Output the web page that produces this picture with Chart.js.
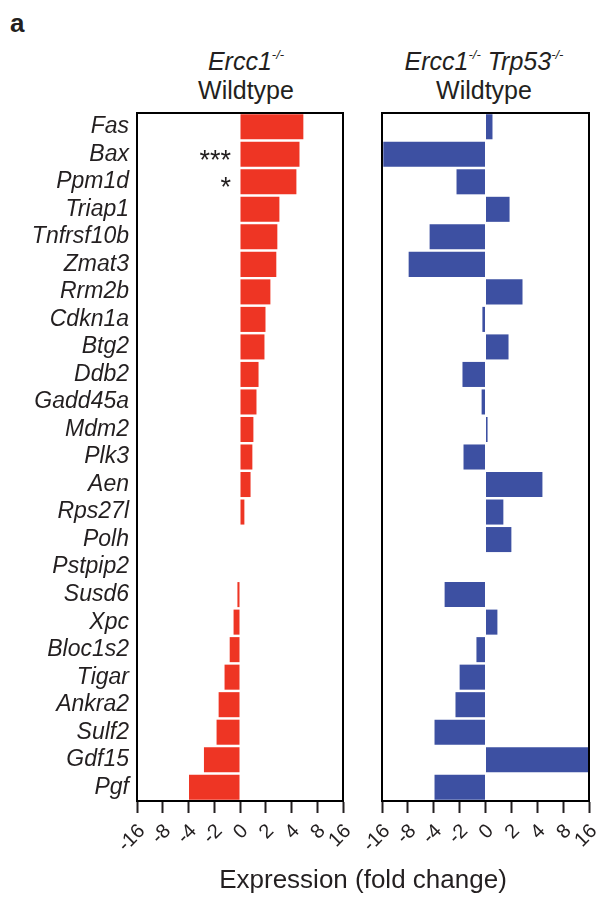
<!DOCTYPE html>
<html>
<head>
<meta charset="utf-8">
<title>Expression (fold change)</title>
<script src="https://cdn.jsdelivr.net/npm/chart.js@4.4.1/dist/chart.umd.min.js"></script>
<style>
    body {
        margin: 0;
        width: 603px;
        height: 897px;
        position: relative;
        overflow: hidden;
        background: #fff;
        color: #231f20;
        font-family: "Liberation Sans", Arial, Helvetica, sans-serif;
    }
    canvas { position: absolute; top: 0; }
    #leftChart { left: 0; }
    #rightChart { left: 340px; }
    .panel-label {
        position: absolute;
        left: 10px;
        top: 8px;
        font-size: 26px;
        font-weight: bold;
    }
    .title {
        position: absolute;
        top: 47px;
        width: 240px;
        text-align: center;
        font-size: 25px;
        line-height: 29px;
        white-space: nowrap;
    }
    .title sup {
        font-size: 13px;
        vertical-align: 11px;
        line-height: 0;
    }
    .axis-title {
        position: absolute;
        left: 163px;
        width: 400px;
        top: 864px;
        text-align: center;
        font-size: 26px;
        line-height: 30px;
    }
</style>
</head>
<body>
<div class="panel-label">a</div>
<div class="title" style="left:126px"><i>Ercc1</i><sup><i>-/-</i></sup><br>Wildtype</div>
<div class="title" style="left:364px"><i>Ercc1</i><sup><i>-/-</i></sup> <i>Trp53</i><sup><i>-/-</i></sup><br>Wildtype</div>
<canvas id="leftChart" width="360" height="897"></canvas>
<canvas id="rightChart" width="263" height="897"></canvas>
<div class="axis-title">Expression (fold change)</div>

<script>
// Genes, top to bottom
const genes = ['Fas', 'Bax', 'Ppm1d', 'Triap1', 'Tnfrsf10b', 'Zmat3', 'Rrm2b', 'Cdkn1a',
    'Btg2', 'Ddb2', 'Gadd45a', 'Mdm2', 'Plk3', 'Aen', 'Rps27l', 'Polh', 'Pstpip2',
    'Susd6', 'Xpc', 'Bloc1s2', 'Tigar', 'Ankra2', 'Sulf2', 'Gdf15', 'Pgf'];

// Bar lengths in log2 units of the fold change axis (one tick = one doubling)
const ercc1Values = [2.46, 2.31, 2.19, 1.53, 1.45, 1.41, 1.18, 0.99,
    0.95, 0.72, 0.64, 0.52, 0.48, 0.41, 0.17, null, null,
    -0.1, -0.25, -0.4, -0.6, -0.83, -0.91, -1.4, -1.98];

const ercc1Trp53Values = [0.27, -3.95, -1.12, 0.93, -2.16, -2.97, 1.43, -0.12,
    0.89, -0.89, -0.15, 0.08, -0.85, 2.2, 0.69, 1.0, null,
    -1.58, 0.46, -0.35, -1.0, -1.16, -1.97, 3.98, -1.97];

// Significance marks on the Ercc1 panel
const ercc1Stars = ['', '***', '*', '', '', '', '', '', '', '', '', '', '', '', '', '', '',
    '', '', '', '', '', '', '', ''];

// Tick labels of the fold change axis, -4..4 in log2 units
const foldTicks = ['-16', '-8', '-4', '-2', '0', '2', '4', '8', '16'];

const TEXT_COLOR = '#231f20';
const FONT = '"Liberation Sans", Arial, Helvetica, sans-serif';

/**
 * Draws the black box around the plot area
 */
const framePlugin = {
    id: 'frame',
    afterDatasetsDraw(chart) {
        const { ctx, chartArea: a } = chart;
        ctx.save();
        ctx.strokeStyle = '#000';
        ctx.lineWidth = 2;
        ctx.strokeRect(a.left, a.top, a.right - a.left, a.bottom - a.top);
        ctx.restore();
    }
};

/**
 * Draws the significance asterisks just left of the zero line
 */
const starsPlugin = {
    id: 'stars',
    afterDatasetsDraw(chart, args, opts) {
        if (!opts.marks) return;
        const { ctx, scales } = chart;
        const x0 = scales.x.getPixelForValue(0);
        ctx.save();
        ctx.fillStyle = TEXT_COLOR;
        ctx.font = '27px ' + FONT;
        ctx.textAlign = 'right';
        ctx.textBaseline = 'middle';
        opts.marks.forEach((mark, i) => {
            if (mark) ctx.fillText(mark, x0 - 9, scales.y.getPixelForValue(i) + 7);
        });
        ctx.restore();
    }
};

/**
 * Draws the rotated fold change labels under each x tick
 */
const foldLabelsPlugin = {
    id: 'foldLabels',
    afterDraw(chart) {
        const { ctx, scales: { x } } = chart;
        ctx.save();
        ctx.fillStyle = TEXT_COLOR;
        ctx.font = '20px ' + FONT;
        ctx.textAlign = 'right';
        ctx.textBaseline = 'middle';
        x.ticks.forEach((tick, i) => {
            ctx.save();
            ctx.translate(x.getPixelForValue(tick.value) + 5, x.top + 27);
            ctx.rotate(-Math.PI / 4);
            ctx.fillText(foldTicks[i], 0, 0);
            ctx.restore();
        });
        ctx.restore();
    }
};

function createPanel(canvasId, values, color, showGenes, padding, marks) {
    const ctx = document.getElementById(canvasId);

    return new Chart(ctx, {
        type: 'bar',
        data: {
            labels: genes,
            datasets: [{
                data: values,
                backgroundColor: color,
                borderWidth: 0,
                barPercentage: 0.91,
                categoryPercentage: 1.0
            }]
        },
        plugins: [framePlugin, starsPlugin, foldLabelsPlugin],
        options: {
            indexAxis: 'y',
            responsive: false,
            animation: false,
            devicePixelRatio: 1,
            layout: { padding: padding },
            plugins: {
                legend: { display: false },
                tooltip: { enabled: false },
                stars: { marks: marks }
            },
            scales: {
                x: {
                    min: -4,
                    max: 4,
                    afterFit: scale => { scale.height = 96; },
                    grid: {
                        drawOnChartArea: false,
                        drawTicks: true,
                        tickLength: 12,
                        tickWidth: 2,
                        tickColor: TEXT_COLOR
                    },
                    border: { display: true, color: '#000', width: 2 },
                    ticks: {
                        display: false,
                        stepSize: 1,
                        autoSkip: false,
                        maxRotation: 0
                    }
                },
                y: {
                    display: showGenes,
                    afterFit: scale => { scale.width = showGenes ? 137 : 0; },
                    grid: { display: false, drawTicks: false },
                    border: { display: false },
                    ticks: {
                        autoSkip: false,
                        padding: 8,
                        color: TEXT_COLOR,
                        font: { family: FONT, size: 23, style: 'italic' }
                    }
                }
            }
        }
    });
}

createPanel('leftChart', ercc1Values, '#ee3524', true,
    { top: 113, right: 17, bottom: 0, left: 0 }, ercc1Stars);
createPanel('rightChart', ercc1Trp53Values, '#3d50a2', false,
    { top: 113, right: 14, bottom: 0, left: 42 }, null);
</script>
</body>
</html>
